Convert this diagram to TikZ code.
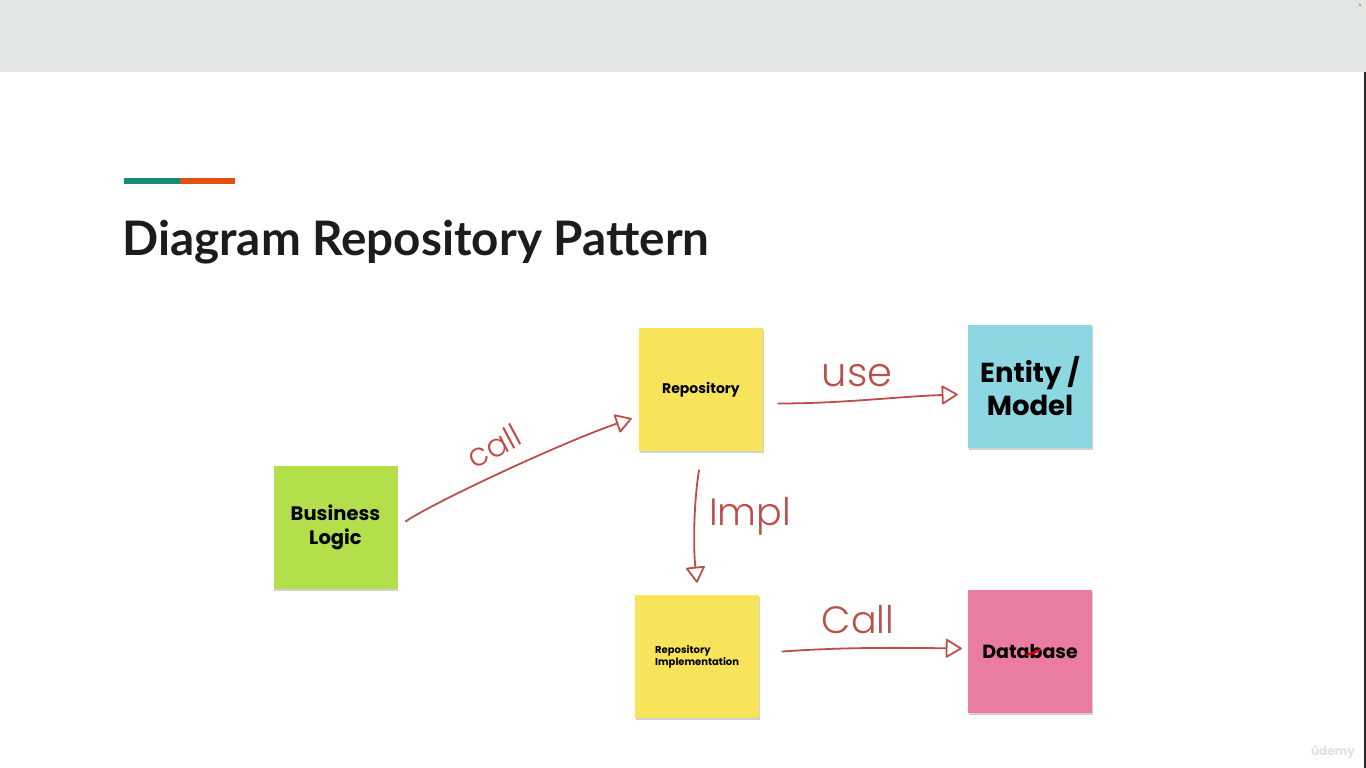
\documentclass[tikz,border=0pt]{standalone}
\usepackage{fontspec}
\usetikzlibrary{arrows.meta}
\newfontfamily\titlefont{Lato}
\newfontfamily\notefont{Poppins}
\newfontfamily\handfont{Poppins Light}
\definecolor{bandgray}{HTML}{E3E7E6}
\definecolor{accentteal}{HTML}{1B8A78}
\definecolor{accentorange}{HTML}{E1510F}
\definecolor{notegreen}{HTML}{B3DF4A}
\definecolor{noteyellow}{HTML}{F7E45A}
\definecolor{notecyan}{HTML}{8DD7E3}
\definecolor{notepink}{HTML}{EB7CA1}
\definecolor{ink}{HTML}{BE4F48}
\definecolor{titleink}{HTML}{1C1C1C}
\tikzset{
  sticky/.style={minimum width=124, minimum height=123, inner sep=0pt,
    align=center, text=black, font=\notefont\bfseries,
    preaction={fill=black!18, transform canvas={shift={(0.6pt,-1.6pt)}}}},
  handline/.style={draw=ink, line width=1.8pt, line cap=round, line join=round,
    -{Triangle[open, length=17pt, width=20pt, line width=1.8pt, round]}},
  handlabel/.style={text=ink, font=\handfont, inner sep=0pt}
}
\begin{document}
\begin{tikzpicture}[x=1pt,y=-1pt]
\useasboundingbox (0,0) rectangle (1366,768);
\fill[white] (0,0) rectangle (1366,768);
% top band
\fill[bandgray] (0,0) rectangle (1366,72);
\fill[orange!80] (1360,5) circle (1.6);
\draw[black!85, line width=2pt] (1365,72) -- (1365,768);
% accent bar and title
\fill[accentteal] (124,178) rectangle (180,184);
\fill[accentorange] (180,178) rectangle (235,184);
\node[anchor=base west, inner sep=0pt, text=titleink, font=\titlefont\bfseries\fontsize{47.6}{50}\selectfont]
  (title) at (122,255) {Diagram Repository Pattern};
% sticky notes
\node[sticky, fill=notegreen, font=\notefont\bfseries\fontsize{19.5}{24}\selectfont] (bl) at (335.5,527.5) {Business\\Logic};
\node[sticky, fill=noteyellow, font=\notefont\bfseries\fontsize{14}{15}\selectfont] (repo) at (701,389.5) {Repository};
\node[sticky, fill=notecyan, font=\notefont\bfseries\fontsize{27.5}{33}\selectfont] (ent) at (1030,386.5) {Entity /\\Model};
\node[sticky, fill=noteyellow] (impl) at (697,656.5) {};
\node[anchor=west, align=left, inner sep=0pt, font=\notefont\bfseries\fontsize{10}{12}\selectfont]
  (impltext) at (655,656.5) {Repository\\Implementation};
\node[sticky, fill=notepink, font=\notefont\bfseries\fontsize{19}{20}\selectfont] (db) at (1030,651.5) {Database};
\draw[red!85!black, line width=2.2pt, line cap=round] ([shift={(-3,3)}]db.center) .. controls ([shift={(3,2)}]db.center) .. ([shift={(10,-2)}]db.center);
% hand-drawn connectors
\draw[handline] ([shift={(8,-6)}]bl.east) .. controls ([shift={(30,-22)}]bl.east) and ([shift={(-80,54)}]repo.west) .. ([shift={(-7,29)}]repo.west);
\draw[handline] ([shift={(15,14)}]repo.east) .. controls ([shift={(80,14)}]repo.east) and ([shift={(-70,10)}]ent.west) .. ([shift={(-10,8)}]ent.west);
\draw[handline] ([shift={(-2,19)}]repo.south) .. controls ([shift={(-7,50)}]repo.south) and ([shift={(-4,-50)}]impl.north) .. ([shift={(0,-12)}]impl.north);
\draw[handline] ([shift={(23,-5)}]impl.east) .. controls ([shift={(80,-9)}]impl.east) and ([shift={(-80,-4)}]db.west) .. ([shift={(-6,-3)}]db.west);
% labels on the connectors
\node[handlabel, rotate=28, font=\handfont\fontsize{32}{32}\selectfont] (lcall) at (494,446) {call};
\node[handlabel, font=\handfont\fontsize{40}{40}\selectfont] (luse) at (857,376) {use};
\node[handlabel, font=\handfont\fontsize{38}{38}\selectfont] (limpl) at (750,516) {Impl};
\node[handlabel, font=\handfont\fontsize{38}{38}\selectfont] (lcall2) at (858,620) {Call};
% watermark
\node[text=black!12, font=\notefont\bfseries\fontsize{12}{12}\selectfont, inner sep=0pt] (mark) at (1333,752) {ûdemy};
\end{tikzpicture}
\end{document}
